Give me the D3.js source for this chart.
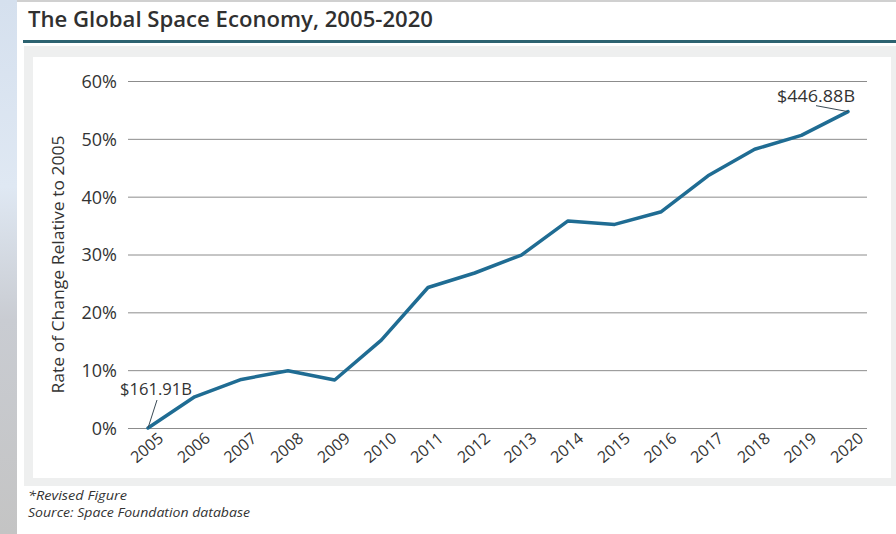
<!DOCTYPE html>
<html>
<head>
<meta charset="utf-8">
<script src="https://cdn.jsdelivr.net/npm/d3@7"></script>
<style>
  html, body { margin: 0; padding: 0; background: #ffffff; }
  svg { display: block; }
  text { font-family: "Open Sans", "Liberation Sans", sans-serif; fill: #333; }
</style>
</head>
<body>
<svg id="chart" width="896" height="534"></svg>
<script>
// ---- data ----
const years = [2005, 2006, 2007, 2008, 2009, 2010, 2011, 2012, 2013, 2014, 2015, 2016, 2017, 2018, 2019, 2020];
const pctChange = [0, 5.4, 8.4, 9.9, 8.3, 15.2, 24.3, 26.8, 29.9, 35.8, 35.2, 37.4, 43.6, 48.2, 50.6, 54.7];
const yTicks = [0, 10, 20, 30, 40, 50, 60];
const annoYears = [2005, 2020];
const annoLabels = ["$161.91B", "$446.88B"];
const titleText = "The Global Space Economy, 2005-2020";
const yTitle = "Rate of Change Relative to 2005";
const notes = ["*Revised Figure", "Source: Space Foundation database"];

const svg = d3.select("#chart");
const defs = svg.append("defs");
const grad = defs.append("linearGradient").attr("id", "sideGrad")
  .attr("x1", 0).attr("y1", 0).attr("x2", 0).attr("y2", 1);
grad.append("stop").attr("offset", "0%").attr("stop-color", "#d5e0ee");
grad.append("stop").attr("offset", "35%").attr("stop-color", "#dfe8f3");
grad.append("stop").attr("offset", "60%").attr("stop-color", "#c9ccd2");
grad.append("stop").attr("offset", "100%").attr("stop-color", "#c4c4c4");

// page background
svg.append("rect").attr("x", 0).attr("y", 0).attr("width", 17).attr("height", 534).attr("fill", "url(#sideGrad)");
svg.append("rect").attr("x", 17).attr("y", 0).attr("width", 879).attr("height", 2).attr("fill", "#d0d0d0");

// title
svg.append("text").attr("x", 28).attr("y", 27)
  .attr("font-size", 22).attr("font-weight", 600)
  .attr("textLength", 405).attr("lengthAdjust", "spacingAndGlyphs")
  .style("fill", "#303030")
  .text(titleText);
svg.append("rect").attr("x", 23).attr("y", 40).attr("width", 873).attr("height", 3).attr("fill", "#2c6270");

// chart frame
svg.append("rect").attr("x", 24).attr("y", 46).attr("width", 872).attr("height", 440).attr("fill", "#eeefef");
svg.append("rect").attr("x", 33).attr("y", 57).attr("width", 858).attr("height", 421).attr("fill", "#ffffff");

// scales
const x = d3.scaleLinear().domain([2005, 2020]).range([148, 848]);
const y = d3.scaleLinear().domain([0, 60]).range([428, 81]);
const gridLeft = 128, gridRight = 867;

// y axis with gridlines
const yAxis = svg.append("g").attr("transform", `translate(${gridLeft},0)`)
  .call(d3.axisLeft(y).tickValues(yTicks).tickFormat(d => d + "%")
    .tickSize(-(gridRight - gridLeft)).tickPadding(11));
yAxis.select(".domain").remove();
yAxis.selectAll(".tick line").attr("stroke", "#8c8c8c").attr("stroke-width", 1);
yAxis.selectAll(".tick text").attr("font-size", 18).attr("font-family", "Open Sans").style("fill", "#333")
  .attr("dy", "0.36em");

// x axis
const xAxis = svg.append("g").attr("transform", `translate(0,${y(0)})`)
  .call(d3.axisBottom(x).tickValues(years).tickFormat(d3.format("d")).tickSize(0).tickPadding(0));
xAxis.select(".domain").remove();
xAxis.selectAll(".tick text")
  .attr("font-size", 16).attr("font-family", "Open Sans").style("fill", "#333")
  .attr("text-anchor", "middle").attr("y", 0).attr("dy", 0)
  .attr("transform", "translate(2,24) rotate(-40)");

// y title
svg.append("text")
  .attr("transform", `translate(64,${(y(0) + y(60)) / 2 + 10}) rotate(-90)`)
  .attr("text-anchor", "middle").attr("font-size", 17)
  .attr("textLength", 258).attr("lengthAdjust", "spacingAndGlyphs")
  .text(yTitle);

// line
const line = d3.line().x((d, i) => x(years[i])).y(d => y(d));
svg.append("path").datum(pctChange)
  .attr("d", line).attr("fill", "none")
  .attr("stroke", "#1f6c93").attr("stroke-width", 3.5)
  .attr("stroke-linejoin", "round").attr("stroke-linecap", "round");

// annotations
const annoOffsets = [
  { tx: -28, ty: -33, lx: 9, ly: -28, w: 72 },
  { tx: -71, ty: -10, lx: -32, ly: -6, w: 78 }
];
annoYears.forEach((yr, k) => {
  const px = x(yr), py = y(pctChange[years.indexOf(yr)]);
  const o = annoOffsets[k];
  svg.append("line").attr("x1", px).attr("y1", py).attr("x2", px + o.lx).attr("y2", py + o.ly)
    .attr("stroke", "#3a4a55").attr("stroke-width", 1);
  svg.append("text").attr("x", px + o.tx).attr("y", py + o.ty)
    .attr("font-size", 17).attr("textLength", o.w).attr("lengthAdjust", "spacingAndGlyphs")
    .text(annoLabels[k]);
});

// footnotes
svg.append("text").attr("x", 28).attr("y", 500).attr("font-size", 12).attr("font-style", "italic")
  .attr("textLength", 99).attr("lengthAdjust", "spacingAndGlyphs").text(notes[0]);
svg.append("text").attr("x", 28).attr("y", 517).attr("font-size", 12).attr("font-style", "italic")
  .attr("textLength", 222).attr("lengthAdjust", "spacingAndGlyphs").text(notes[1]);
</script>
</body>
</html>
